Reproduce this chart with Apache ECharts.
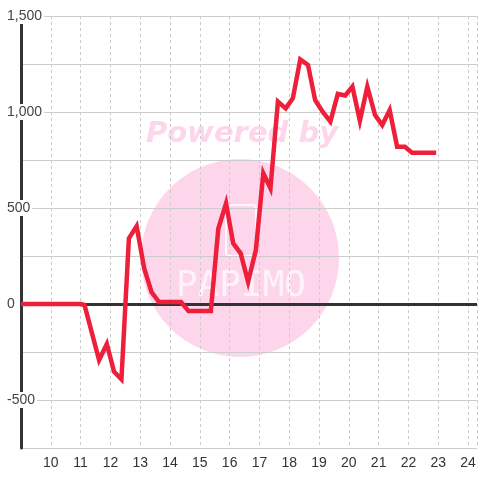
<!DOCTYPE html>
<html>
<head>
<meta charset="utf-8">
<script src="https://cdn.jsdelivr.net/npm/echarts@6/dist/echarts.min.js"></script>
<style>html,body{margin:0;padding:0;background:#fff}#c{width:480px;height:480px}</style>
</head>
<body>
<div id="c"></div>
<script>
// Hours of day (x) and values (y)
const hours = [9, 11.0, 11.13, 11.62, 11.88, 12.12, 12.37, 12.62, 12.88, 13.13, 13.38, 13.63, 14.37, 14.62, 15.37, 15.62, 15.88, 16.12, 16.37, 16.62, 16.88, 17.13, 17.37, 17.62, 17.88, 18.12, 18.37, 18.63, 18.87, 19.12, 19.38, 19.63, 19.88, 20.12, 20.37, 20.62, 20.88, 21.12, 21.37, 21.62, 21.88, 22.12, 22.93];
const values = [0, 0, -5, -292, -208, -352, -392, 342, 406, 188, 62, 10, 10, -36, -36, 392, 524, 316, 264, 116, 281, 681, 603, 1054, 1019, 1071, 1274, 1245, 1062, 1002, 950, 1094, 1086, 1132, 955, 1132, 984, 932, 1010, 819, 819, 788, 788];
const xTickLabels = [10, 11, 12, 13, 14, 15, 16, 17, 18, 19, 20, 21, 22, 23, 24];
const yTickLabels = [-500, 0, 500, 1000, 1500];

const chart = echarts.init(document.getElementById('c'), null, {renderer: 'canvas'});
const data = hours.map((h, i) => [h, values[i]]);
const font = 'Liberation Sans, Arial, sans-serif';

chart.setOption({
  animation: false,
  backgroundColor: '#fff',
  grid: {left: 21, right: 0, top: 16, bottom: 32, containLabel: false},
  graphic: [
    {type: 'circle', z: -10, silent: true, shape: {cx: 240, cy: 258, r: 99}, style: {fill: '#fdd6ec'}},
    {type: 'text', z: -10, silent: true, x: 242, y: 134, style: {text: 'Powered by', fill: '#fdd6ec', font: 'italic bold 29px DejaVu Sans, sans-serif', align: 'center', verticalAlign: 'middle'}},
    {type: 'rect', z: -9, silent: true, shape: {x: 226, y: 205, width: 30, height: 51, r: 3}, style: {fill: 'none', stroke: 'rgba(255,255,255,0.8)', lineWidth: 2}},
    {type: 'text', z: -9, silent: true, x: 241, y: 287, style: {text: 'PAPIMO', fill: 'rgba(255,255,255,0.7)', font: '36px DejaVu Sans Mono, monospace', align: 'center', verticalAlign: 'middle'}}
  ],
  xAxis: {
    type: 'value',
    min: 9,
    max: 24.3,
    interval: 1,
    axisLine: {show: false, onZero: false},
    axisTick: {show: false},
    axisLabel: {
      margin: 8,
      color: '#333',
      fontSize: 14,
      fontFamily: font,
      formatter: v => xTickLabels.indexOf(v) >= 0 ? String(v) : ''
    },
    splitLine: {show: true, lineStyle: {color: '#ccc', type: [3, 3], width: 1}}
  },
  yAxis: {
    type: 'value',
    min: -750,
    max: 1500,
    interval: 250,
    axisLine: {show: true, lineStyle: {color: '#333', width: 3}},
    axisTick: {show: false},
    axisLabel: {
      margin: 16,
      align: 'left',
      color: '#444',
      fontSize: 14,
      fontFamily: font,
      backgroundColor: '#fff',
      padding: [1, 2],
      formatter: v => yTickLabels.indexOf(v) >= 0 ? v.toLocaleString('en-US') : ''
    },
    splitLine: {show: true, lineStyle: {color: '#ccc', width: 1}}
  },
  series: [{
    type: 'line',
    data: data,
    showSymbol: false,
    symbol: 'none',
    z: 3,
    lineStyle: {color: '#ed1f3a', width: 4.5, join: 'miter'},
    markLine: {
      silent: true,
      z: 1,
      symbol: 'none',
      label: {show: false},
      lineStyle: {color: '#333', width: 3, type: 'solid'},
      data: [{yAxis: 0}]
    }
  }]
});
</script>
</body>
</html>
